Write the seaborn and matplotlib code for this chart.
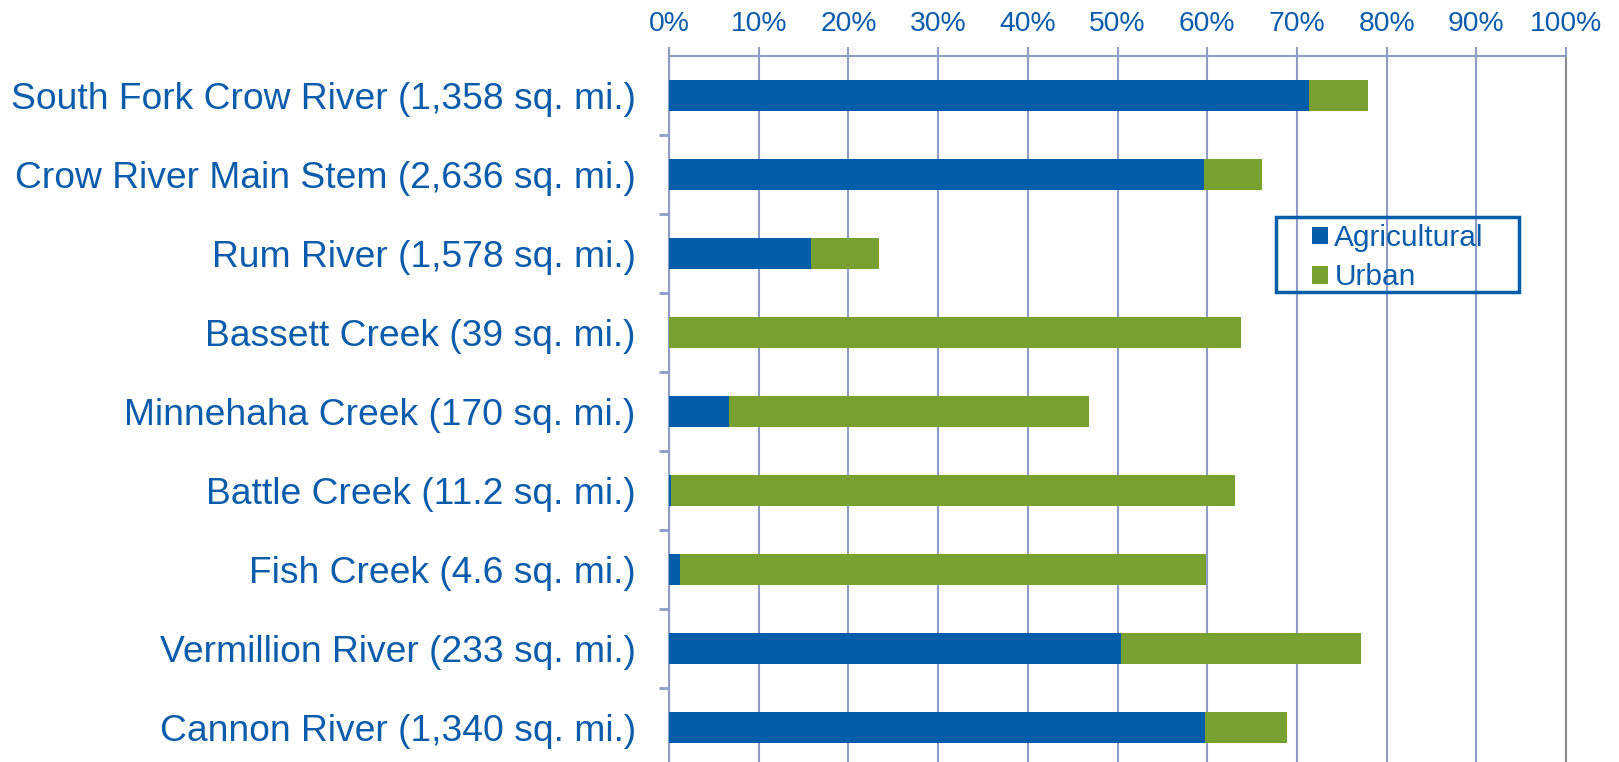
import numpy as np
import pandas as pd
import seaborn as sns
import matplotlib
matplotlib.use("Agg")
import matplotlib.pyplot as plt
from matplotlib.patches import Patch, Rectangle
from matplotlib.ticker import FixedLocator

categories = [
    "South Fork Crow River (1,358 sq. mi.)",
    "Crow River Main Stem (2,636 sq. mi.)",
    "Rum River (1,578 sq. mi.)",
    "Bassett Creek (39 sq. mi.)",
    "Minnehaha Creek (170 sq. mi.)",
    "Battle Creek (11.2 sq. mi.)",
    "Fish Creek (4.6 sq. mi.)",
    "Vermillion River (233 sq. mi.)",
    "Cannon River (1,340 sq. mi.)",
]
agricultural = [71.4, 59.6, 15.8, 0.0, 6.7, 0.2, 1.25, 50.4, 59.7]
urban = [6.5, 6.5, 7.6, 63.8, 40.1, 62.9, 58.6, 26.8, 9.2]
x_ticks = [0, 10, 20, 30, 40, 50, 60, 70, 80, 90, 100]
x_tick_labels = [f"{t}%" for t in x_ticks]
series_names = ["Agricultural", "Urban"]

BLUE = "#005DAA"
GREEN = "#79A132"
TEXT = "#0B5CAB"
GRID = "#8E9DC6"

df = pd.DataFrame({"category": categories, "agricultural": agricultural, "urban": urban})
df["total"] = df["agricultural"] + df["urban"]

sns.set_theme(style="white")
plt.rcParams["font.family"] = ["Liberation Sans", "DejaVu Sans"]

W, H = 1619, 762
fig = plt.figure(figsize=(W / 100, H / 100), dpi=100)
ax = fig.add_axes([669 / W, 1 - 767 / H, (1566 - 669) / W, 711 / H])

sns.barplot(data=df, x="total", y="category", color=GREEN, saturation=1,
            width=0.39, ax=ax, orient="h", edgecolor="none", zorder=3)
sns.barplot(data=df, x="agricultural", y="category", color=BLUE, saturation=1,
            width=0.39, ax=ax, orient="h", edgecolor="none", zorder=4)

ax.set_xlim(0, 100)
ax.set_ylim(len(categories) - 0.5, -0.5)
ax.set_xlabel("")
ax.set_ylabel("")

ax.set_axisbelow(True)
ax.xaxis.set_major_locator(FixedLocator(x_ticks))
ax.set_xticklabels(x_tick_labels)
ax.grid(axis="x", color=GRID, lw=1.5, zorder=0)
ax.grid(axis="y", visible=False)

ax.xaxis.tick_top()
ax.tick_params(axis="x", top=True, bottom=False, labeltop=True, labelbottom=False,
               length=6.5, width=1.5, color=GRID, pad=7, labelsize=20.3, labelcolor=TEXT)
ax.tick_params(axis="y", which="major", length=0, pad=24, labelsize=26.8, labelcolor=TEXT)
ax.yaxis.set_minor_locator(FixedLocator(np.arange(0.5, len(categories) - 1, 1)))
ax.tick_params(axis="y", which="minor", left=True, length=7.5, width=2, color=GRID)

ax.spines["bottom"].set_visible(False)
ax.spines["top"].set_color(GRID)
ax.spines["top"].set_linewidth(1.5)
ax.spines["left"].set_color(GRID)
ax.spines["left"].set_linewidth(1.5)
ax.spines["right"].set_color("#8A8A8A")
ax.spines["right"].set_linewidth(1.5)

handles = [Patch(facecolor=BLUE, edgecolor="none"), Patch(facecolor=GREEN, edgecolor="none")]
leg = ax.legend(handles, series_names, loc="upper left",
                bbox_to_anchor=(1312 / W, 1 - 224 / H), bbox_transform=fig.transFigure,
                frameon=False, fontsize=21.5, handlelength=0.53, handleheight=0.53,
                handletextpad=0.22, labelspacing=0.38, borderpad=0, borderaxespad=0)
for t in leg.get_texts():
    t.set_color(TEXT)

fig.add_artist(Rectangle((1276 / W, 1 - 292 / H), (1519 - 1276) / W, (292 - 217) / H,
                         transform=fig.transFigure, fill=False, edgecolor=BLUE, lw=2.5,
                         zorder=10))

fig.savefig("out.png", dpi=100)
